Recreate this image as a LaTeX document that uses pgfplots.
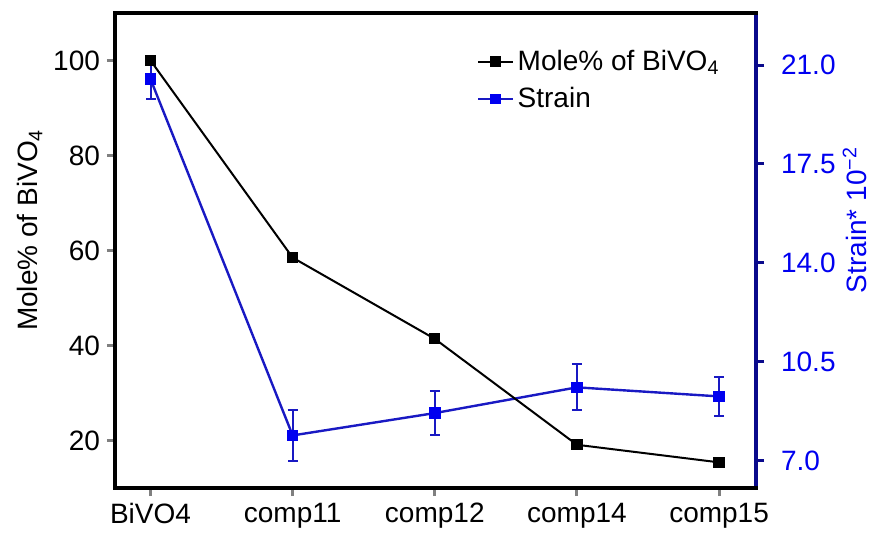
\documentclass[border=0pt]{standalone}
\usepackage{pgfplots}
\pgfplotsset{compat=1.18}
\usepackage{fontspec}
\setmainfont{Liberation Sans}
\definecolor{navyax}{RGB}{10,10,140}
\definecolor{strainblue}{RGB}{0,0,240}
\definecolor{strainline}{RGB}{25,25,195}

\pgfplotsset{
  common/.style={
    scale only axis, width=320.5pt, height=237.5pt,
    xmin=-0.25, xmax=4.26,
    tick align=outside, major tick length=4pt,
    font=\fontsize{14}{16.8}\selectfont,
    /pgf/number format/assume math mode=true,
    axis line style={line width=2pt, line cap=rect},
    tick style={line width=1.5pt},
  },
}

\begin{document}
\begin{tikzpicture}
% strain, right axis
\begin{axis}[common,
    axis x line=none, axis y line*=right,
    ymin=6.04, ymax=22.84,
    ytick={7,10.5,14,17.5,21},
    yticklabel style={/pgf/number format/fixed, /pgf/number format/fixed zerofill,
      /pgf/number format/precision=1, color=strainblue, xshift=5pt},
    y axis line style={navyax}, ytick style={navyax},
    ylabel={Strain* 10\textsuperscript{−2}},
    ylabel style={color=strainblue, at={([xshift=49.5pt]rel axis cs:1,0.564)}, anchor=center, rotate=0},
  ]
\addplot[strainline, line width=1.2pt, mark=square*, mark size=2.3pt,
  mark options={strainblue},
  error bars/.cd, y dir=both, y explicit,
  error bar style={line width=1pt, strainline},
  error mark options={rotate=90, mark size=2.5pt, line width=1pt, strainline}]
  coordinates {
  (0,20.50) +- (0,0.71)
  (1,7.90) +- (0,0.89)
  (2,8.69) +- (0,0.78)
  (3,9.60) +- (0,0.81)
  (4,9.28) +- (0,0.69)
};
\end{axis}
% mole %, left axis
\begin{axis}[common,
    axis x line*=box, axis y line*=left,
    xtick pos=left, ytick pos=left,
    ymin=10, ymax=110,
    ytick={20,40,60,80,100},
    xtick={0,1,2,3,4},
    xticklabels={BiVO4,comp11,comp12,comp14,comp15},
    ylabel={Mole\% of BiVO\textsubscript{4}},
    ylabel style={at={([xshift=-42.5pt]rel axis cs:0,0.543)}, anchor=center},
    legend style={at={(rel axis cs:0.555,0.94)}, anchor=north west, draw=none, fill=none,
      row sep=3pt, font=\fontsize{14}{16.8}\selectfont},
    legend cell align=left,
  ]
\addplot[black, line width=1pt, mark=square*, mark size=2.3pt]
  coordinates {(0,100) (1,58.5) (2,41.4) (3,19.1) (4,15.4)};
\addlegendentry{Mole\% of BiVO\textsubscript{4}}
\addlegendimage{strainline, line width=1.2pt, mark=square*, mark size=2pt, mark options={strainblue}}
\addlegendentry{Strain}
\coordinate (sw) at (rel axis cs:0,0);
\coordinate (ne) at (rel axis cs:1,1);
\end{axis}
\pgfresetboundingbox
\path[use as bounding box] ([xshift=-57.5pt,yshift=-22pt]sw) rectangle ([xshift=58pt,yshift=6.5pt]ne);
\end{tikzpicture}
\end{document}
